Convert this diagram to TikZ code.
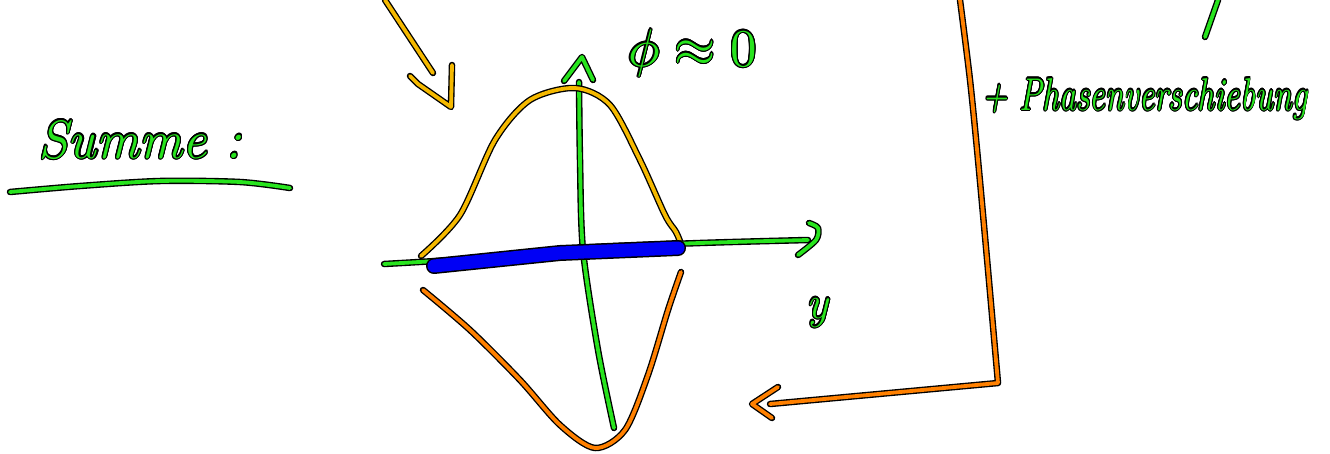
\documentclass[tikz,border=0pt]{standalone}
\usepackage{contour}
\contourlength{1.2pt}
\definecolor{pgreen}{RGB}{40,228,30}
\definecolor{pgold}{RGB}{245,185,0}
\definecolor{porange}{RGB}{255,128,0}
\definecolor{pblue}{RGB}{0,0,245}
\tikzset{
  ink/.style={line width=6.5pt,line cap=round,line join=round,black},
  pen/.style={line width=3.8pt,line cap=round,line join=round,#1},
  lbl/.style={text=pgreen,inner sep=0pt,font=\itshape}
}
\newcommand{\stroke}[2]{\draw[ink] #2; \draw[pen=#1] #2;}
\begin{document}
\begin{tikzpicture}[x=1pt,y=-1pt]
\useasboundingbox (0,0) rectangle (1330,453);
% Summe underline
\stroke{pgreen}{plot[smooth] coordinates {(10,192) (80,186) (160,181) (240,182) (290,188)}}
\node[lbl,anchor=base west,font=\fontsize{54}{58}\selectfont\itshape] (summe) at (38,158) {\contour{black}{Summe :}};
% gold arrow top-left
\coordinate (ga1) at (385,0);
\coordinate (ga2) at (433,73);
\stroke{pgold}{(ga1) -- (ga2)}
\stroke{pgold}{(410,76) -- (418,84) -- (451,107) -- (452,65)}
% vertical axis
\stroke{pgreen}{plot[smooth] coordinates {(579,82) (580,160) (583,250) (598,350) (614,428)}}
\stroke{pgreen}{(564,81) -- (582,57) -- (593,80)}
\node[lbl,anchor=base west] (phi) at (628,66) {\contourlength{0.23pt}\scalebox{5.3}{\contour{black}{$\phi\approx 0$}}};
% gold gaussian
\stroke{pgold}{plot[smooth] coordinates {(421,256) (460,215) (495,140) (530,100) (575,88) (610,105) (640,160) (665,215) (676,232) (681,244)}}
% orange inverted gaussian
\stroke{porange}{plot[smooth] coordinates {(423,290) (470,330) (520,380) (560,425) (595,448) (625,430) (648,375) (668,310) (681,272)}}
% horizontal axis
\stroke{pgreen}{plot[smooth] coordinates {(384,264) (480,258) (580,248) (700,243) (808,240)}}
\stroke{pgreen}{plot[smooth] coordinates {(809,223) (818,228) (816,240) (798,255)}}
\node[lbl,anchor=base west,font=\fontsize{46}{50}\selectfont\itshape] (ylab) at (806,318) {\contour{black}{y}};
% blue stroke
\draw[black,line width=16pt,line cap=round] (434,266) -- (560,253) -- (678,248);
\draw[pblue,line width=13pt,line cap=round] (434,266) -- (560,253) -- (678,248);
% orange connector
\coordinate (oc3) at (770,404);
\stroke{porange}{plot[smooth] coordinates {(960,0) (970,80) (978,160) (988,270) (998,383)} -- (oc3)}
\stroke{porange}{(778,387) -- (752,404) -- (772,418)}
% green short stroke top-right
\stroke{pgreen}{(1218,0) -- (1205,37)}
\node[lbl,anchor=base west,font=\fontsize{46}{50}\selectfont\itshape] (phase) at (982,110) {\scalebox{0.74}[1]{\contour{black}{+ Phasenverschiebung}}};
\end{tikzpicture}
\end{document}
